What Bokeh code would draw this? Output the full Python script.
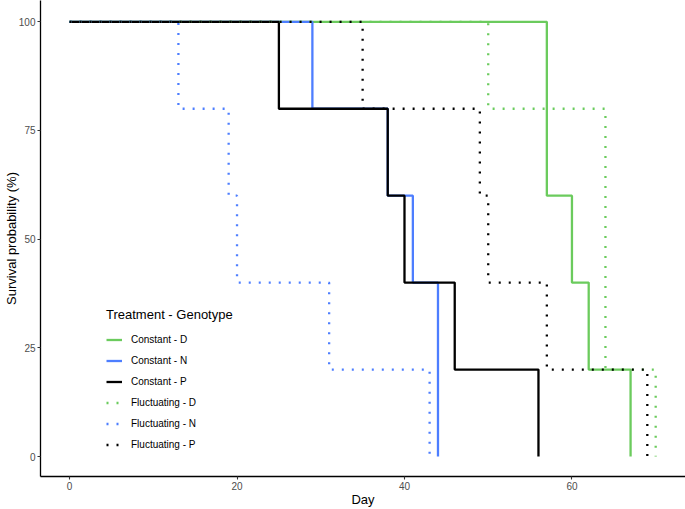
from bokeh.plotting import figure
from bokeh.models import Range1d, FixedTicker, Legend, LegendItem
from bokeh.embed import file_html
from bokeh.resources import INLINE

# Data: step change times (days) and survival (%) after each time
groups = ["Constant - D", "Constant - N", "Constant - P",
          "Fluctuating - D", "Fluctuating - N", "Fluctuating - P"]
const_D_t = [0, 57, 60, 62, 67]
const_D_s = [100, 60, 40, 20, 0]
const_N_t = [0, 29, 38, 41, 44]
const_N_s = [100, 80, 60, 40, 0]
const_P_t = [0, 25, 38, 40, 46, 56]
const_P_s = [100, 80, 60, 40, 20, 0]
fluc_D_t = [0, 50, 64, 70]
fluc_D_s = [100, 80, 20, 0]
fluc_N_t = [0, 13, 19, 20, 31, 43]
fluc_N_s = [100, 80, 60, 40, 20, 0]
fluc_P_t = [0, 35, 49, 50, 57, 69]
fluc_P_s = [100, 80, 60, 40, 20, 0]
x_ticks = [0, 20, 40, 60]
y_ticks = [0, 25, 50, 75, 100]

GREEN = "#6BCB5D"
BLUE = "#4D7EFF"
BLACK = "#000000"

series = [
    (const_D_t, const_D_s, GREEN, "solid"),
    (const_N_t, const_N_s, BLUE, "solid"),
    (const_P_t, const_P_s, BLACK, "solid"),
    (fluc_D_t, fluc_D_s, GREEN, "2 8"),
    (fluc_N_t, fluc_N_s, BLUE, "2 8"),
    (fluc_P_t, fluc_P_s, BLACK, "2 8"),
]

FONT = "Liberation Sans"

p = figure(width=685, height=509,
           x_range=Range1d(-3.47, 73.56), y_range=Range1d(-4.6, 104.9),
           output_backend="svg", toolbar_location=None,
           min_border_left=0, min_border_right=0,
           min_border_top=0, min_border_bottom=0)
p.outline_line_color = None
p.xgrid.visible = False
p.ygrid.visible = False
p.background_fill_color = "white"

for ax in (p.xaxis[0], p.yaxis[0]):
    ax.axis_line_color = "black"
    ax.axis_line_width = 1.3
    ax.major_tick_line_color = "#333333"
    ax.major_tick_line_width = 1.1
    ax.major_tick_in = 0
    ax.major_tick_out = 3
    ax.minor_tick_line_color = None
    ax.major_label_text_font = FONT
    ax.major_label_text_font_size = "10px"
    ax.major_label_text_color = "#4D4D4D"
    ax.major_label_standoff = 2
    ax.axis_label_text_font = FONT
    ax.axis_label_text_font_size = "13px"
    ax.axis_label_text_font_style = "normal"
    ax.axis_label_text_color = "black"

p.xaxis[0].axis_label_standoff = -1
p.yaxis[0].axis_label_standoff = -3

p.xaxis.ticker = FixedTicker(ticks=x_ticks)
p.yaxis.ticker = FixedTicker(ticks=y_ticks)
p.xaxis.axis_label = "Day"
p.yaxis.axis_label = "Survival probability (%)"

items = []
for name, (t, s, c, dash) in zip(groups, series):
    r = p.step(t, s, mode="after", line_color=c, line_width=2.3,
               line_dash=dash, line_cap="butt")
    items.append(LegendItem(label=name, renderers=[r]))

legend = Legend(items=items, location=(66, 21),
                title="Treatment - Genotype",
                title_text_font=FONT, title_text_font_size="13px",
                title_text_font_style="normal", title_standoff=7,
                title_text_color="black",
                label_text_font=FONT, label_text_font_size="10px",
                label_text_color="black",
                glyph_width=16, glyph_height=21, label_height=21,
                label_standoff=9, spacing=0, padding=0, margin=0,
                border_line_color=None, background_fill_alpha=0)
p.add_layout(legend)

open("out.html", "w").write(file_html(p, INLINE))
